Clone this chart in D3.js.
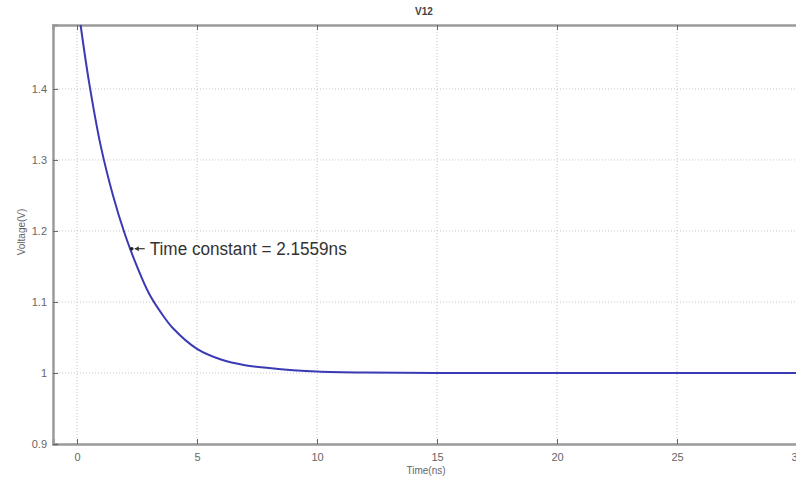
<!DOCTYPE html>
<html>
<head>
<meta charset="utf-8">
<script src="https://cdn.jsdelivr.net/npm/d3@7"></script>
<style>
  body { margin: 0; background: #fff; }
  svg { display: block; font-family: "Liberation Sans", Arial, sans-serif; }
</style>
</head>
<body>
<div id="chart"></div>
<script>
// values
var timeNs = [0.15, 0.5, 1, 1.5, 2, 2.5, 3, 3.5, 4, 5, 6, 7, 8, 9, 10, 12, 15, 20, 25, 30]
var voltage = [1.49, 1.41, 1.318, 1.25, 1.195, 1.15, 1.112, 1.085, 1.063, 1.034, 1.019, 1.011, 1.007, 1.004, 1.002, 1.0006, 1.0, 1.0, 1.0, 1.0]
var xTicks = [0, 5, 10, 15, 20, 25, 30]
var yTicks = [0.9, 1, 1.1, 1.2, 1.3, 1.4]
var tauPoint = [2.28, 1.175]
var tauLabel = "Time constant = 2.1559ns"

var W = 796, H = 479
var margin = {top: 25, right: -1, bottom: 35, left: 53}
var width = W - margin.left - margin.right
var height = H - margin.top - margin.bottom

var svg = d3.select("#chart").append("svg")
    .attr("width", W)
    .attr("height", H)

var x = d3.scaleLinear().domain([-1, 30]).range([margin.left, margin.left + width])
var y = d3.scaleLinear().domain([0.9, 1.49]).range([margin.top + height, margin.top])

var grey = "#9a9a9a"

// dotted grid
var grid = svg.append("g")
grid.selectAll(".vg").data(xTicks).enter().append("line")
    .attr("x1", d => x(d)).attr("x2", d => x(d))
    .attr("y1", y(0.9)).attr("y2", y(1.49))
    .style("stroke", "#c8c8c8").style("stroke-dasharray", "1,2")
grid.selectAll(".hg").data(yTicks.slice(1)).enter().append("line")
    .attr("x1", x(-1)).attr("x2", x(30))
    .attr("y1", d => y(d)).attr("y2", d => y(d))
    .style("stroke", "#c8c8c8").style("stroke-dasharray", "1,2")

// axes, MATLAB style with inward ticks
svg.append("g")
    .attr("transform", "translate(0," + y(0.9) + ")")
    .call(d3.axisBottom(x).tickValues(xTicks).tickSize(-5).tickPadding(9).tickFormat(d3.format("~g")))
svg.append("g")
    .attr("transform", "translate(0," + y(1.49) + ")")
    .call(d3.axisTop(x).tickValues(xTicks).tickSize(-5).tickFormat(""))
svg.append("g")
    .attr("transform", "translate(" + x(-1) + ",0)")
    .call(d3.axisLeft(y).tickValues(yTicks).tickSize(-5).tickPadding(6).tickFormat(d3.format("~g")))

svg.selectAll(".domain").style("stroke", grey).style("stroke-width", 2.5)
svg.selectAll(".tick line").style("stroke", "#666")
svg.selectAll(".tick text").style("fill", "#666").style("font-size", "11px")

// curve
var line = d3.line()
    .x(d => x(d[0]))
    .y(d => y(d[1]))
    .curve(d3.curveCatmullRom)

svg.append("path")
    .datum(timeNs.map((t, i) => [t, voltage[i]]))
    .attr("d", line)
    .style("fill", "none")
    .style("stroke", "#3a3ab4")
    .style("stroke-width", 2)

// annotation
var px = x(tauPoint[0]), py = y(tauPoint[1])
svg.append("circle").attr("cx", px).attr("cy", py).attr("r", 1.8).style("fill", "#222")
svg.append("line")
    .attr("x1", px + 3).attr("x2", px + 13)
    .attr("y1", py).attr("y2", py)
    .style("stroke", "#333").style("stroke-width", 1.2)
svg.append("path")
    .attr("d", "M" + (px + 3) + "," + py + "l4,-2.5l0,5z")
    .style("fill", "#333")
svg.append("text")
    .attr("x", px + 18)
    .attr("y", py + 6)
    .attr("textLength", 197)
    .attr("lengthAdjust", "spacingAndGlyphs")
    .style("font-size", "18px")
    .style("fill", "#333")
    .text(tauLabel)

// titles
svg.append("text")
    .attr("x", 424).attr("y", 15)
    .attr("text-anchor", "middle")
    .style("font-size", "10px").style("font-weight", "bold").style("fill", "#444")
    .text("V12")
svg.append("text")
    .attr("x", 426).attr("y", 474)
    .attr("text-anchor", "middle")
    .style("font-size", "10px").style("fill", "#666")
    .text("Time(ns)")
svg.append("text")
    .attr("transform", "translate(25,232) rotate(-90)")
    .attr("text-anchor", "middle")
    .style("font-size", "10px").style("fill", "#666")
    .text("Voltage(V)")
</script>
</body>
</html>
